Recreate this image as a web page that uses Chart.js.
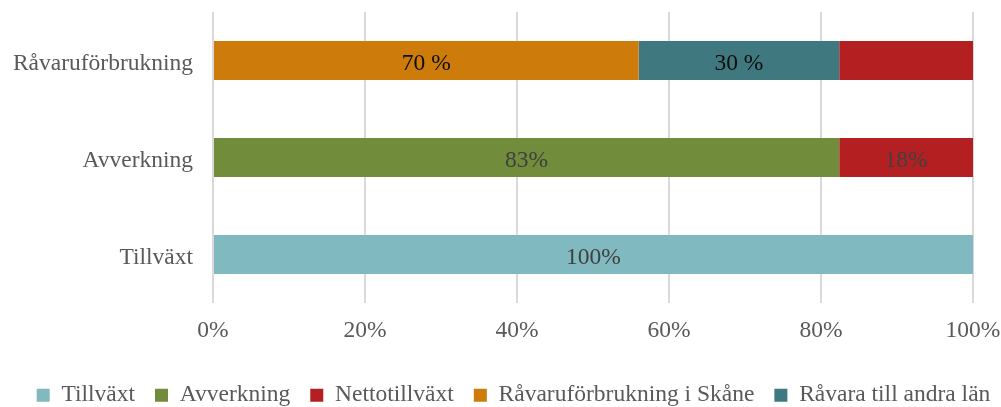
<!DOCTYPE html>
<html>
<head>
<meta charset="utf-8">
<script src="https://cdn.jsdelivr.net/npm/chart.js@4.4.1/dist/chart.umd.min.js"></script>
<style>
  html, body { margin: 0; padding: 0; background: #fff; }
  #wrap { width: 1001px; height: 407px; }
</style>
</head>
<body>
<div id="wrap"><canvas id="chart"></canvas></div>
<script>
// kategorier, uppifrån och ner
const categories = ['Råvaruförbrukning', 'Avverkning', 'Tillväxt'];

// andelar i procent
const tillvaxt = [null, null, 100];
const avverkning = [null, 82.4, null];
const nettotillvaxt = [17.6, 17.6, null];
const ravaruSkane = [56.0, null, null];
const ravaraAndraLan = [26.4, null, null];

// etiketter på staplarna
const labelsTillvaxt = ['', '', '100%'];
const labelsAvverkning = ['', '83%', ''];
const labelsNetto = ['', '18%', ''];
const labelsSkane = ['70 %', '', ''];
const labelsAndraLan = ['30 %', '', ''];

const xTicks = [0, 20, 40, 60, 80, 100];

const FONT = '"Liberation Serif", "Times New Roman", serif';
const SIZE = 23.5;

// ritar etiketterna mitt i varje stapel
const barLabels = {
  id: 'barLabels',
  afterLayout(chart) {
    // förklaringen ligger lite till höger i originalet
    chart.legend.left += 13;
    chart.legend.right += 13;
  },
  afterDatasetsDraw(chart) {
    const ctx = chart.ctx;
    ctx.save();
    ctx.font = SIZE + 'px ' + FONT;
    ctx.textAlign = 'center';
    ctx.textBaseline = 'middle';
    chart.data.datasets.forEach((ds, i) => {
      const meta = chart.getDatasetMeta(i);
      meta.data.forEach((bar, j) => {
        const txt = ds.barLabels[j];
        if (!txt) return;
        const p = bar.getProps(['x', 'y', 'base'], true);
        ctx.fillStyle = ds.labelColor;
        ctx.fillText(txt, (p.x + p.base) / 2, p.y + 3);
      });
    });
    ctx.restore();
  }
};

new Chart(document.getElementById('chart'), {
  type: 'bar',
  data: {
    labels: categories,
    datasets: [
      { label: 'Tillväxt', data: tillvaxt, backgroundColor: '#80b9c0', barLabels: labelsTillvaxt, labelColor: '#404040', order: 0 },
      { label: 'Avverkning', data: avverkning, backgroundColor: '#718c3b', barLabels: labelsAvverkning, labelColor: '#404040', order: 0 },
      { label: 'Nettotillväxt', data: nettotillvaxt, backgroundColor: '#b42022', barLabels: labelsNetto, labelColor: '#404040', order: 1 },
      { label: 'Råvaruförbrukning i Skåne', data: ravaruSkane, backgroundColor: '#cd7b0a', barLabels: labelsSkane, labelColor: '#0d0d0d', order: 0 },
      { label: 'Råvara till andra län', data: ravaraAndraLan, backgroundColor: '#3f787e', barLabels: labelsAndraLan, labelColor: '#0d0d0d', order: 0 }
    ]
  },
  options: {
    indexAxis: 'y',
    responsive: true,
    maintainAspectRatio: false,
    animation: false,
    layout: { padding: { top: 12, right: 0, bottom: -10, left: 0 } },
    datasets: { bar: { categoryPercentage: 1, barPercentage: 0.4 } },
    scales: {
      x: {
        stacked: true,
        min: 0,
        max: 100,
        afterBuildTicks: (scale) => { scale.ticks = xTicks.map(v => ({ value: v })); },
        ticks: {
          callback: (v) => v + '%',
          color: '#595959',
          font: { family: FONT, size: SIZE },
          padding: 14,
          maxRotation: 0
        },
        grid: { color: '#d9d9d9', lineWidth: 2, drawTicks: false },
        border: { display: false },
        afterFit: (scale) => {
          scale.height = 60.5;
          scale.paddingLeft = 0;
          scale.paddingRight = 28;
        }
      },
      y: {
        stacked: true,
        ticks: {
          color: '#595959',
          font: { family: FONT, size: SIZE },
          padding: 20,
          labelOffset: 3
        },
        grid: { display: false, drawTicks: false },
        border: { display: false },
        afterFit: (scale) => {
          scale.width = 213;
          scale.paddingTop = 0;
          scale.paddingBottom = 0;
        }
      }
    },
    plugins: {
      legend: {
        position: 'bottom',
        labels: {
          color: '#595959',
          font: { family: FONT, size: SIZE },
          boxWidth: 13,
          boxHeight: 13,
          padding: 20,
          sort: (a, b) => a.datasetIndex - b.datasetIndex
        }
      },
      tooltip: { enabled: false }
    }
  },
  plugins: [barLabels]
});
</script>
</body>
</html>
